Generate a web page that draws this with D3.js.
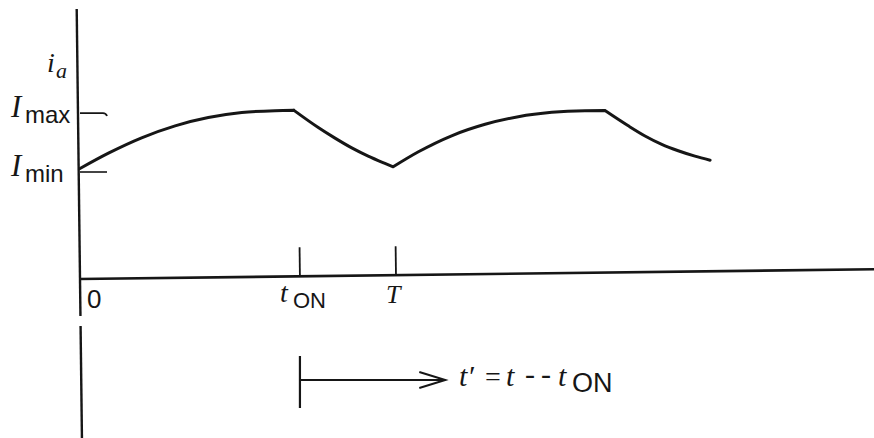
<!DOCTYPE html>
<html>
<head>
<meta charset="utf-8">
<script src="https://cdn.jsdelivr.net/npm/d3@7"></script>
<style>
  html, body { margin: 0; padding: 0; background: #ffffff; }
  svg { display: block; }
  .var { font-family: "Liberation Serif", "Times New Roman", serif; font-style: italic; fill: #161616; }
  .rom { font-family: "Liberation Serif", "Times New Roman", serif; fill: #161616; }
  .sub { font-family: "Liberation Sans", Arial, sans-serif; fill: #161616; }
</style>
</head>
<body>
<svg id="chart" width="874" height="438"></svg>
<script>
// Armature current i_a of a chopper-fed dc motor: rises while the switch is ON,
// decays after t_ON, and repeats every period T (time normalised to T, current to I_max).
const waveT = [0, 0.090, 0.195, 0.301, 0.406, 0.512, 0.617, 0.677,
               0.754, 0.807, 0.860, 0.912, 0.965, 0.991,
               1.071, 1.176, 1.282, 1.387, 1.493, 1.598, 1.661,
               1.735, 1.788, 1.841, 1.893, 1.946, 1.994];
const waveI = [0.656, 0.747, 0.838, 0.909, 0.958, 0.988, 0.999, 1.001,
               0.899, 0.836, 0.778, 0.729, 0.686, 0.666,
               0.755, 0.850, 0.918, 0.963, 0.989, 0.999, 1.000,
               0.909, 0.849, 0.799, 0.761, 0.729, 0.705];
// indices where the waveform switches between rising and decaying
const switchIndex = [7, 13, 20];

// time-axis marks
const timeTickValues = [0.696, 1];
const timeLabelValues = [0, 0.696, 1];
const timeLabelMain = ["", "t", "T"];
const timeLabelSub = ["0", "ON", ""];

// current-axis marks
const levelTickValues = [0.985, 0.635];
const levelLabelSub = ["max", "min"];

const T_ON = 0.696;
const SHIFT_LENGTH = 0.46;   // length of the t' arrow, in units of T

const svg = d3.select("#chart");
const ink = "#161616";

const x = d3.scaleLinear().domain([0, 1]).range([80, 396]);
const y = d3.scaleLinear().domain([0, 1]).range([279, 110.5]);

// ---- axes (the drawing sits very slightly rotated on the page) ----
const axes = svg.append("g")
  .attr("transform", `rotate(-0.7, ${x(0)}, ${y(0)})`);

// vertical current axis, broken just below the origin label
axes.append("line")
  .attr("x1", x(0)).attr("x2", x(0))
  .attr("y1", 9).attr("y2", 316)
  .attr("stroke", ink).attr("stroke-width", 2.4);
axes.append("line")
  .attr("x1", x(0)).attr("x2", x(0))
  .attr("y1", 326).attr("y2", 440)
  .attr("stroke", ink).attr("stroke-width", 2.4);

// horizontal time axis
axes.append("line")
  .attr("x1", x(0) - 1).attr("x2", x(2.6))
  .attr("y1", y(0)).attr("y2", y(0))
  .attr("stroke", ink).attr("stroke-width", 2.6);

// t_ON and T tick marks
axes.selectAll("line.tick")
  .data(timeTickValues)
  .join("line")
  .attr("class", "tick")
  .attr("x1", d => x(d)).attr("x2", d => x(d))
  .attr("y1", y(0) - 29).attr("y2", y(0))
  .attr("stroke", ink).attr("stroke-width", 1.8);

// ---- time-axis labels ----
const tl = svg.append("g");
timeLabelValues.forEach((v, i) => {
  if (timeLabelMain[i] === "") {
    tl.append("text").attr("class", "sub")
      .attr("x", x(v) + 7).attr("y", 308)
      .attr("font-size", 26).text(timeLabelSub[i]);
  } else if (timeLabelSub[i] === "") {
    tl.append("text").attr("class", "var")
      .attr("x", x(v) - 10).attr("y", 303)
      .attr("font-size", 26).text(timeLabelMain[i]);
  } else {
    tl.append("text").attr("class", "var")
      .attr("x", x(v) - 20).attr("y", 302)
      .attr("font-size", 28).text(timeLabelMain[i]);
    tl.append("text").attr("class", "sub")
      .attr("x", x(v) - 7).attr("y", 308)
      .attr("font-size", 22).text(timeLabelSub[i]);
  }
});

// ---- current-axis level marks and labels ----
const lv = svg.append("g");
levelTickValues.forEach((v, i) => {
  const yy = y(v);
  if (i === 0) {
    // I_max mark ends in a small downward hook
    lv.append("path")
      .attr("d", `M${x(0)},${yy} L${x(0) + 23},${yy} Q${x(0) + 26},${yy} ${x(0) + 27},${yy + 3}`)
      .attr("fill", "none").attr("stroke", ink).attr("stroke-width", 1.8);
  } else {
    lv.append("line")
      .attr("x1", x(0)).attr("x2", x(0) + 27)
      .attr("y1", yy).attr("y2", yy)
      .attr("stroke", ink).attr("stroke-width", 1.6);
  }
  lv.append("text").attr("class", "var")
    .attr("x", 11).attr("y", yy + 3.5)
    .attr("font-size", 31).text("I");
  lv.append("text").attr("class", "sub")
    .attr("x", 25).attr("y", yy + 9.5)
    .attr("font-size", 24).text(levelLabelSub[i]);
});

// axis name i_a
svg.append("text").attr("class", "var")
  .attr("x", 47).attr("y", 72).attr("font-size", 28).text("i");
svg.append("text").attr("class", "var")
  .attr("x", 56).attr("y", 78).attr("font-size", 22).text("a");

// ---- current waveform, drawn piecewise between switching instants ----
const pts = waveT.map((t, i) => [t, waveI[i]]);
const bounds = [0, ...switchIndex, pts.length - 1];
const line = d3.line()
  .x(d => x(d[0])).y(d => y(d[1]))
  .curve(d3.curveMonotoneX);
const pieces = d3.pairs(bounds).map(([a, b]) => pts.slice(a, b + 1));
svg.append("path")
  .attr("d", pieces.map(p => line(p)).join(""))
  .attr("fill", "none")
  .attr("stroke", ink)
  .attr("stroke-width", 3)
  .attr("stroke-linejoin", "round")
  .attr("stroke-linecap", "round");

// ---- shifted time origin t' = t - t_ON ----
const ax0 = x(T_ON), ax1 = x(T_ON + SHIFT_LENGTH), ay = 380;
const shift = svg.append("g");
shift.append("line")
  .attr("x1", ax0).attr("x2", ax0).attr("y1", 356).attr("y2", 408)
  .attr("stroke", ink).attr("stroke-width", 2.2);
shift.append("line")
  .attr("x1", ax0).attr("x2", ax1).attr("y1", ay).attr("y2", ay)
  .attr("stroke", ink).attr("stroke-width", 2.2);
shift.append("path")
  .attr("d", `M${ax1 - 26},${ay - 8} L${ax1},${ay} L${ax1 - 26},${ay + 8}`)
  .attr("fill", "none").attr("stroke", ink).attr("stroke-width", 2)
  .attr("stroke-linejoin", "miter");

const eq = svg.append("g");
eq.append("text").attr("class", "var").attr("x", 459).attr("y", 386).attr("font-size", 30).text("t\u2032");
eq.append("text").attr("class", "rom").attr("x", 485).attr("y", 386).attr("font-size", 28).text("=");
eq.append("text").attr("class", "var").attr("x", 506).attr("y", 386).attr("font-size", 30).text("t");
eq.append("text").attr("class", "rom").attr("x", 525).attr("y", 384).attr("font-size", 30)
  .attr("letter-spacing", 6).text("--");
eq.append("text").attr("class", "var").attr("x", 558).attr("y", 386).attr("font-size", 30).text("t");
eq.append("text").attr("class", "sub").attr("x", 572).attr("y", 392).attr("font-size", 27).text("ON");
</script>
</body>
</html>
